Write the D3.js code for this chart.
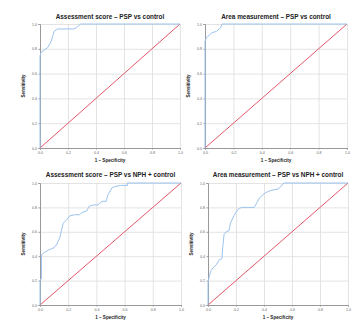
<!DOCTYPE html>
<html><head><meta charset="utf-8">
<script src="https://cdn.jsdelivr.net/npm/d3@7"></script>
<style>
html,body{margin:0;padding:0;background:#fff;}
svg{display:block;font-family:"Liberation Sans",Arial,sans-serif;}
</style></head>
<body><svg id="c" width="355" height="323"></svg>
<script>
// ---- data ----
const titles = [
  "Assessment score \u2013 PSP vs control",
  "Area measurement \u2013 PSP vs control",
  "Assessment score \u2013 PSP vs NPH + control",
  "Area measurement \u2013 PSP vs NPH + control"
];
const xLabel = "1 \u2013 Specificity";
const yLabel = "Sensitivity";
const tickValues = [0, 0.2, 0.4, 0.6, 0.8, 1.0];
const tickLabels = ["0.0", "0.2", "0.4", "0.6", "0.8", "1.0"];

const fprA = [0, 0, 0.007, 0.03, 0.055, 0.08, 0.09, 0.10, 0.125, 0.24, 0.26, 0.28, 0.29, 1];
const tprA = [0, 0.74, 0.77, 0.79, 0.81, 0.86, 0.90, 0.94, 0.96, 0.96, 0.97, 0.99, 1, 1];

const fprB = [0, 0, 0.01, 0.03, 0.05, 0.08, 0.10, 0.11, 0.12, 1];
const tprB = [0, 0.86, 0.89, 0.91, 0.93, 0.94, 0.96, 0.97, 1, 1];

const fprC = [0, 0, 0.01, 0.01, 0.03, 0.06, 0.10, 0.12, 0.14, 0.15, 0.165, 0.19, 0.21, 0.245, 0.28, 0.30, 0.33, 0.35, 0.38, 0.41, 0.44, 0.47, 0.48, 0.51, 0.53, 0.57, 0.62, 0.62, 1];
const tprC = [0, 0.20, 0.22, 0.41, 0.43, 0.45, 0.47, 0.50, 0.55, 0.60, 0.67, 0.70, 0.73, 0.74, 0.74, 0.76, 0.77, 0.81, 0.82, 0.82, 0.85, 0.85, 0.90, 0.96, 0.97, 0.98, 0.98, 1, 1];

const fprD = [0, 0, 0.01, 0.02, 0.04, 0.06, 0.08, 0.10, 0.105, 0.115, 0.13, 0.15, 0.16, 0.18, 0.20, 0.22, 0.24, 0.33, 0.35, 0.37, 0.41, 0.45, 0.50, 0.52, 0.54, 1];
const tprD = [0, 0.18, 0.24, 0.28, 0.31, 0.33, 0.37, 0.38, 0.47, 0.58, 0.60, 0.61, 0.67, 0.72, 0.76, 0.79, 0.80, 0.80, 0.84, 0.88, 0.92, 0.94, 0.95, 0.97, 1.0, 1];

const series = [[fprA, tprA], [fprB, tprB], [fprC, tprC], [fprD, tprD]];
const chance = [0, 1];

// ---- layout ----
const panels = [
  {x0: 40, x1: 180, y0: 24, y1: 148, ty: 19},
  {x0: 205, x1: 347, y0: 24, y1: 148, ty: 19},
  {x0: 40, x1: 181, y0: 183, y1: 305, ty: 177},
  {x0: 208, x1: 348, y0: 183, y1: 305, ty: 177}
];

const svg = d3.select("#c");
panels.forEach((p, i) => {
  const x = d3.scaleLinear().domain([0, 1]).range([p.x0, p.x1]);
  const y = d3.scaleLinear().domain([0, 1]).range([p.y1, p.y0]);
  const g = svg.append("g");

  // grid
  g.append("g").attr("transform", `translate(0,${p.y1})`)
    .call(d3.axisBottom(x).tickValues(tickValues).tickSize(-(p.y1 - p.y0)).tickFormat(""))
    .call(s => s.select(".domain").remove())
    .call(s => s.selectAll("line").attr("stroke", "#dcdcdc").attr("stroke-width", 0.8));
  g.append("g").attr("transform", `translate(${p.x0},0)`)
    .call(d3.axisLeft(y).tickValues(tickValues).tickSize(-(p.x1 - p.x0)).tickFormat(""))
    .call(s => s.select(".domain").remove())
    .call(s => s.selectAll("line").attr("stroke", "#dcdcdc").attr("stroke-width", 0.8));

  // axes
  g.append("g").attr("transform", `translate(0,${p.y1})`)
    .call(d3.axisBottom(x).tickValues(tickValues).tickSize(1.5).tickPadding(1.5).tickFormat((d, j) => tickLabels[j]))
    .call(s => s.select(".domain").attr("stroke", "#999"))
    .call(s => s.selectAll("line").attr("stroke", "#999"))
    .call(s => s.selectAll("text").attr("font-size", 3.6).attr("fill", "#666"));
  g.append("g").attr("transform", `translate(${p.x0},0)`)
    .call(d3.axisLeft(y).tickValues(tickValues).tickSize(1.5).tickPadding(1.5).tickFormat((d, j) => tickLabels[j]))
    .call(s => s.select(".domain").attr("stroke", "#999"))
    .call(s => s.selectAll("line").attr("stroke", "#999"))
    .call(s => s.selectAll("text").attr("font-size", 3.6).attr("fill", "#666"));

  // chance line
  g.append("line")
    .attr("x1", x(chance[0])).attr("y1", y(chance[0]))
    .attr("x2", x(chance[1])).attr("y2", y(chance[1]))
    .attr("stroke", "#e3566c").attr("stroke-width", 1);

  // ROC curve
  const [fx, ty] = series[i];
  const pts = fx.map((v, k) => [v, ty[k]]);
  g.append("path").datum(pts)
    .attr("fill", "none").attr("stroke", "#9cc3ee").attr("stroke-width", 1)
    .attr("d", d3.line().x(d => x(d[0])).y(d => y(d[1])));

  // title
  g.append("text").attr("x", (p.x0 + p.x1) / 2).attr("y", p.ty)
    .attr("text-anchor", "middle").attr("font-size", 6.4).attr("font-weight", "bold")
    .attr("fill", "#222").text(titles[i]);
  // x label
  g.append("text").attr("x", (p.x0 + p.x1) / 2).attr("y", p.y1 + 13.5)
    .attr("text-anchor", "middle").attr("font-size", 4.6).attr("font-weight", "bold")
    .attr("fill", "#222").text(xLabel);
  // y label
  g.append("text")
    .attr("transform", `translate(${p.x0 - 15},${(p.y0 + p.y1) / 2}) rotate(-90)`)
    .attr("text-anchor", "middle").attr("font-size", 4.6).attr("font-weight", "bold")
    .attr("fill", "#222").text(yLabel);
});
</script></body></html>
